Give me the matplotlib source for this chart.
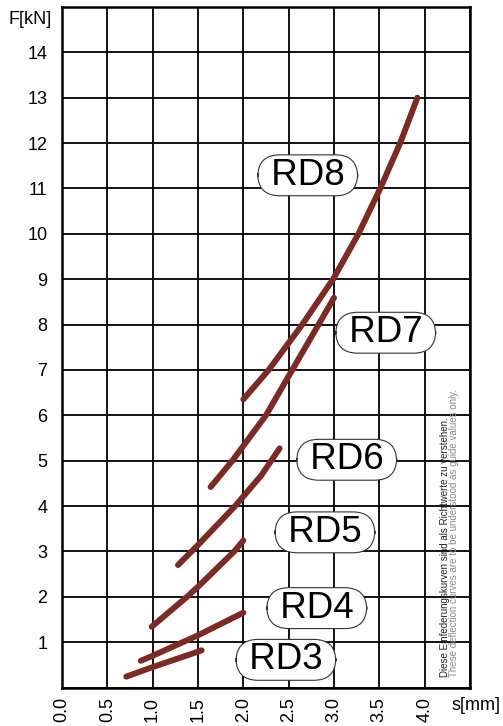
import matplotlib
matplotlib.use("Agg")
import matplotlib.pyplot as plt

plt.rcParams['font.family'] = ['Liberation Sans', 'DejaVu Sans']

# Federkennlinien
rd8_s = [2.0, 2.28, 2.65, 2.99, 3.27, 3.51, 3.73, 3.92]
rd8_f = [6.35, 7.0, 8.0, 9.0, 10.0, 11.0, 12.0, 13.0]
rd7_s = [1.64, 1.88, 2.25, 2.54, 2.83, 3.0]
rd7_f = [4.42, 5.0, 6.0, 7.0, 8.0, 8.59]
rd6_s = [1.28, 1.5, 1.91, 2.2, 2.4]
rd6_f = [2.70, 3.14, 4.0, 4.68, 5.27]
rd5_s = [0.99, 1.38, 1.5, 1.9, 2.0]
rd5_f = [1.34, 2.0, 2.22, 3.0, 3.24]
rd4_s = [0.87, 1.0, 1.5, 2.0]
rd4_f = [0.59, 0.70, 1.15, 1.65]
rd3_s = [0.71, 1.0, 1.5, 1.54]
rd3_f = [0.24, 0.45, 0.79, 0.82]

curves = [(rd8_s, rd8_f), (rd7_s, rd7_f), (rd6_s, rd6_f),
          (rd5_s, rd5_f), (rd4_s, rd4_f), (rd3_s, rd3_f)]

labels = ["RD8", "RD7", "RD6", "RD5", "RD4", "RD3"]
label_s = [2.71, 3.57, 3.14, 2.90, 2.81, 2.47]
label_f = [11.29, 7.82, 5.02, 3.42, 1.75, 0.61]

x_ticks = [0.0, 0.5, 1.0, 1.5, 2.0, 2.5, 3.0, 3.5, 4.0]
y_ticks = list(range(1, 15))

note_de = "Diese Einfederungskurven sind als Richtwerte zu verstehen."
note_en = "These deflection curves are to be understood as guide values only."

curve_color = "#7b2a24"

fig = plt.figure(figsize=(5.03, 7.26), dpi=100)
ax = fig.add_axes([0.1231, 0.0530, 0.8113, 0.9374])

ax.set_xlim(0, 4.5)
ax.set_ylim(0, 15)
ax.set_xticks([i * 0.5 for i in range(10)])
ax.set_yticks(range(0, 16))
ax.grid(True, color="black", linewidth=1.3)
ax.set_axisbelow(True)
for sp in ax.spines.values():
    sp.set_linewidth(1.8)
    sp.set_color("black")

# Beschriftung der Achsen nur an ausgewählten Stellen
ax.set_xticklabels([f"{v:.1f}" if v in x_ticks else "" for v in ax.get_xticks()],
                   rotation=90, fontsize=13)
ax.set_yticklabels([str(v) if v in y_ticks else "" for v in range(0, 16)], fontsize=13)
ax.tick_params(axis="x", length=0, pad=7)
ax.tick_params(axis="y", length=0, pad=10.5)

for s, f in curves:
    ax.plot(s, f, color=curve_color, linewidth=4.3, solid_capstyle="round",
            solid_joinstyle="round", zorder=3)

for name, xs, ys in zip(labels, label_s, label_f):
    ax.text(xs, ys, " " + name + " ", fontsize=26.5, ha="center", va="center", zorder=4,
            bbox=dict(boxstyle="round,pad=0.08,rounding_size=0.6",
                      facecolor="white", edgecolor="#333333", linewidth=0.8))

fig.text(52 / 503, 0.9738, "F[kN]", fontsize=13, ha="right", va="center")
fig.text(452 / 503, 0.0289, "s[mm]", fontsize=13, ha="left", va="center")

fig.text(445 / 503, 49 / 726, note_de, fontsize=7, rotation=90,
         ha="center", va="bottom", color="#222222")
fig.text(454 / 503, 49 / 726, note_en, fontsize=7, rotation=90,
         ha="center", va="bottom", color="#8a8a8a")

fig.savefig("out.png", dpi=100)
